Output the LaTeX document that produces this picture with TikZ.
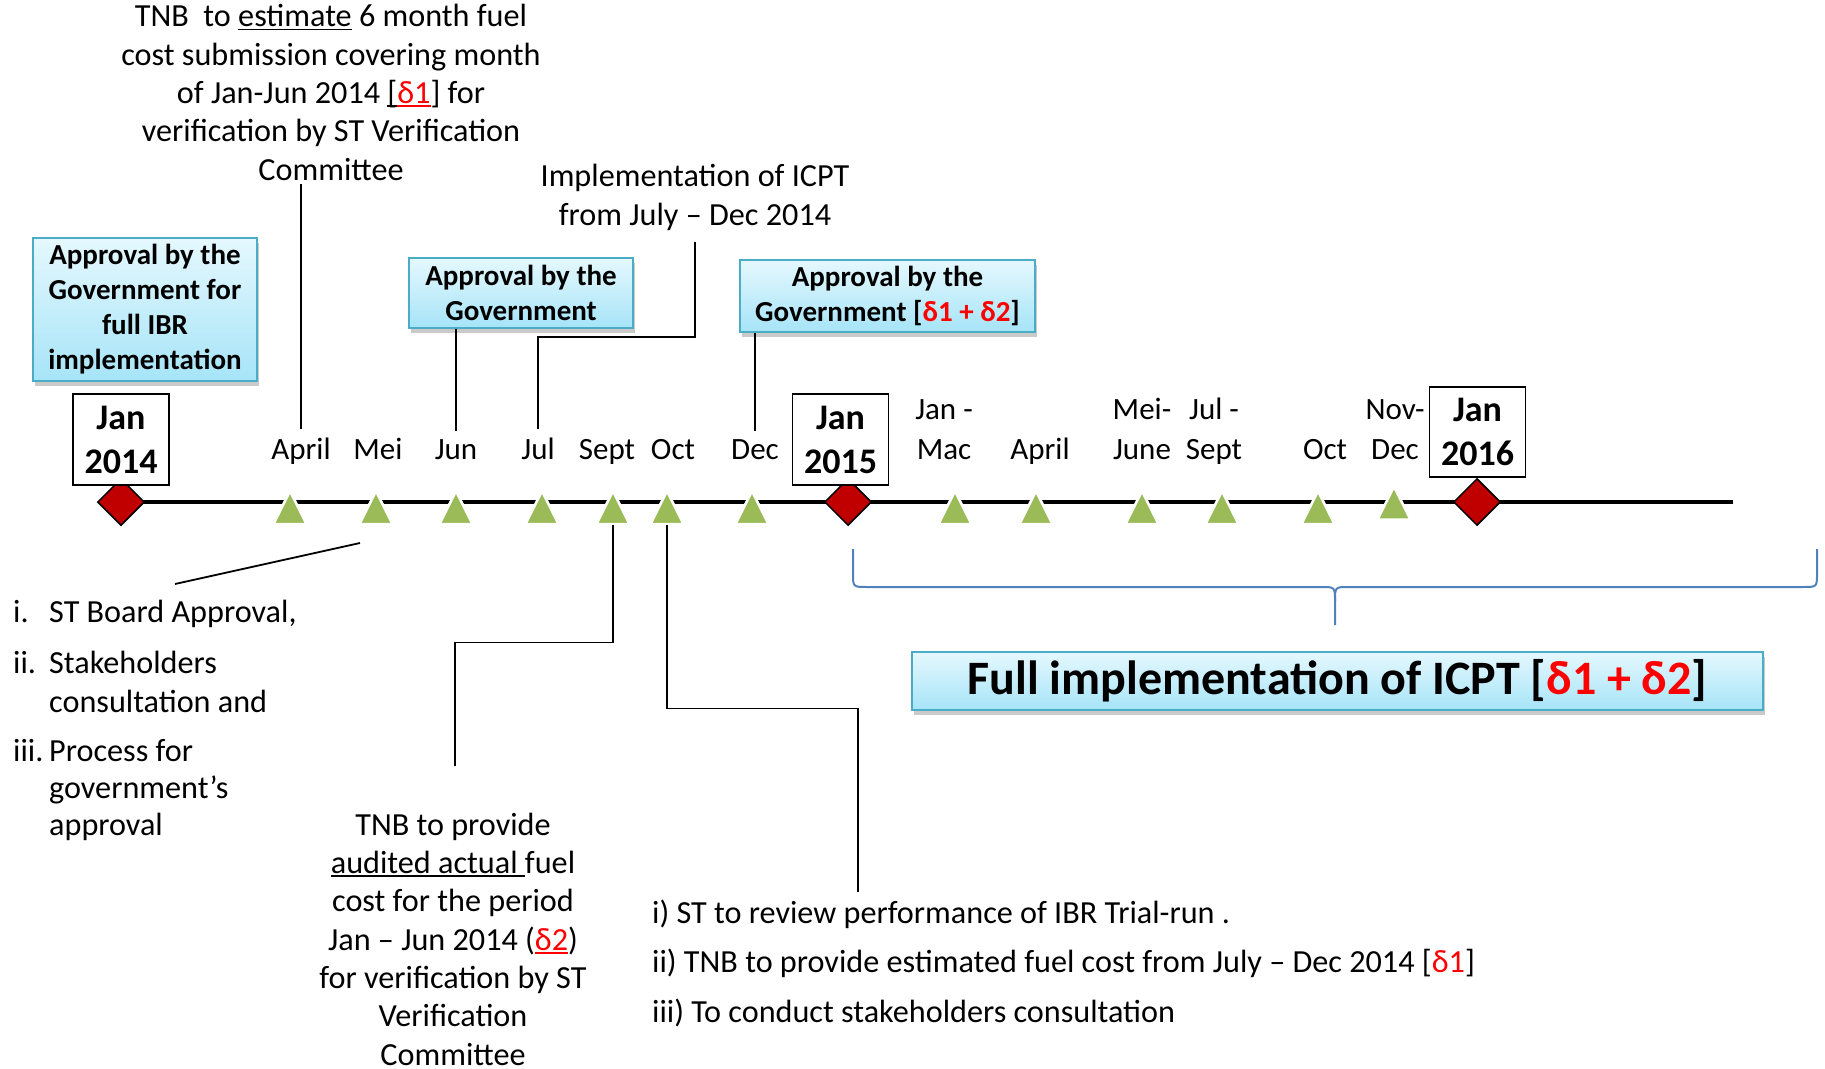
\documentclass[tikz,border=0pt]{standalone}
\usepackage{fontspec}
\setmainfont{Carlito}
\usetikzlibrary{shapes.geometric,shadows}
\definecolor{tgreen}{HTML}{9BBB59}
\definecolor{dred}{HTML}{C00000}
\definecolor{bxborder}{HTML}{4BACC6}
\definecolor{bxtop}{HTML}{E5F8FE}
\definecolor{bxbot}{HTML}{A6E4F8}
\definecolor{bracecol}{HTML}{4F81BD}
\newsavebox\myulbox
\newcommand\myul[1]{\sbox\myulbox{#1}\rlap{\usebox\myulbox}\rule[-3.5pt]{\wd\myulbox}{1.6pt}}
\tikzset{
  tri/.pic={\path[fill=tgreen, draw=white, line width=2.5] (-16.5,16.5) -- (0,-16.5) -- (16.5,16.5) -- cycle;
            \coordinate (-bot) at (0,17);},
}
\begin{document}
\begin{tikzpicture}[x=1pt,y=-1pt,
  body/.style={font=\fontsize{32.2}{38.3}\selectfont, inner sep=0, align=center},
  mlabel/.style={font=\fontsize{31}{40}\selectfont, inner sep=8, align=center, anchor=base},
  datebox/.style={draw, line width=1.5, fill=white, font=\fontsize{36}{44}\selectfont\bfseries, align=center, minimum width=96, minimum height=91, inner sep=0},
  apprbox/.style={draw=bxborder, line width=2, top color=bxtop, bottom color=bxbot,
     drop shadow={shadow xshift=2pt, shadow yshift=-5pt, opacity=0.35, fill=black!60},
     font=\fontsize{29}{35}\selectfont\bfseries, align=center, inner sep=0},
  conn/.style={draw=black, line width=1.8},
  diam/.style={diamond, draw=black, line width=1.5, fill=dred, minimum width=47, minimum height=47, inner sep=0},
  timeline/.style={draw=black, line width=4},
  bracestyle/.style={draw=bracecol, line width=2},
]
\useasboundingbox (0,0) rectangle (1825,1068);

% timeline
\coordinate (tlStart) at (121,502);
\coordinate (tlEnd) at (1733,502);
\draw[timeline] (tlStart) -- (tlEnd);

% triangles
\pic (tApril) at (290,507.5) {tri};
\pic (tMei) at (376,507.5) {tri};
\pic (tJun) at (456,507.5) {tri};
\pic (tJul) at (542,507.5) {tri};
\pic (tSept) at (613,507.5) {tri};
\pic (tOct) at (667,507.5) {tri};
\pic (tDec) at (752,507.5) {tri};
\pic (tJanMac) at (955,507.5) {tri};
\pic (tApril2) at (1036,507.5) {tri};
\pic (tMeiJune) at (1142,507.5) {tri};
\pic (tJulSept) at (1222,507.5) {tri};
\pic (tOct2) at (1318,507.5) {tri};
\pic (tNovDec) at (1394,503) {tri};

% diamonds
\node[diam] (dJ14) at (121,502) {};
\node[diam] (dJ15) at (848,502) {};
\node[diam] (dJ16) at (1477,502) {};

% date boxes
\node[datebox] (bJ14) at (121,439.5) {Jan\\2014};
\node[datebox] (bJ15) at (840.5,439.5) {Jan\\2015};
\node[datebox, minimum height=90] (bJ16) at (1477.5,432) {Jan\\2016};

% month labels (anchor base = baseline of last line)
\node[mlabel] (lApril) at (301,459) {April};
\node[mlabel] (lMei) at (378,459) {Mei};
\node[mlabel] (lJun) at (456,459) {Jun};
\node[mlabel] (lJul) at (538,459) {Jul};
\node[mlabel] (lSept) at (607,459) {Sept};
\node[mlabel] (lOct) at (673,459) {Oct};
\node[mlabel] (lDec) at (755,459) {Dec};
\node[mlabel] (lJanMac) at (944,459) {Jan -\\Mac};
\node[mlabel] (lApril2) at (1040,459) {April};
\node[mlabel] (lMeiJune) at (1142,459) {Mei-\\June};
\node[mlabel] (lJulSept) at (1214,459) {Jul -\\Sept};
\node[mlabel] (lOct2) at (1325,459) {Oct};
\node[mlabel] (lNovDec) at (1395,459) {Nov-\\Dec};

% approval boxes
\node[apprbox, minimum width=224, minimum height=143] (appr1) at (145,309.5) {Approval by the\\Government for\\full IBR\\implementation};
\node[apprbox, minimum width=224, minimum height=70] (appr2) at (521,293) {Approval by the\\Government};
\node[apprbox, minimum width=295, minimum height=72] (appr3) at (887.5,296) {Approval by the\\Government [\textcolor{red}{δ1 + δ2}]};

% top texts
\node[body, anchor=base, inner sep=4] (tnbEst) at (331,180) {TNB~ to \myul{estimate} 6 month fuel\\cost submission covering month\\of Jan-Jun 2014 \myul{[}\textcolor{red}{\myul{δ1}}] for\\verification by ST Verification\\Committee};
\node[body, anchor=base, inner sep=12] (impl) at (695,225) {Implementation of ICPT\\from July – Dec 2014};

% left list
\node[body, anchor=base west] (li1) at (13,622) {i.};
\node[body, anchor=base west] (lt1) at (49,622) {ST Board Approval,};
\node[body, anchor=base west] (li2) at (13,673) {ii.};
\node[body, anchor=base west, align=left] (lt2) at (49,712) {Stakeholders\\consultation and};
\node[body, anchor=base west] (li3) at (13,761) {iii.};
\node[body, anchor=base west, align=left, font=\fontsize{32.2}{37}\selectfont] (lt3) at (49,835) {Process for\\government’s\\approval};

% bottom middle text
\node[body, anchor=base] (tnbAud) at (453,1065) {TNB to provide\\\myul{audited actual\ }fuel\\cost for the period\\Jan – Jun 2014 (\textcolor{red}{\myul{δ2}})\\for verification by ST\\Verification\\Committee};

% bottom right text
\node[body, anchor=base west, align=left, font=\fontsize{32.2}{49.5}\selectfont] (review) at (652,1022) {i) ST to review performance of IBR Trial-run .\\ii) TNB to provide estimated fuel cost from July – Dec 2014 [\textcolor{red}{δ1}]\\iii) To conduct stakeholders consultation};

% full implementation box
\node[apprbox, font=\fontsize{48}{56}\selectfont\bfseries, minimum width=851, minimum height=58] (full) at (1337.5,681) {Full implementation of ICPT [\textcolor{red}{δ1 + δ2}]};

% connectors
\draw[conn] (tnbEst.south -| lApril.north) -- (lApril.north);
\draw[conn] (appr2.south -| lJun.north) -- (lJun.north);
\draw[conn] (lJul.north) -- ++(0,-92) -| (impl.south);
\draw[conn] (appr3.south -| lDec.north) -- (lDec.north);
\coordinate (meiA) at (360,543);
\coordinate (meiB) at (175,584);
\draw[conn] (meiA) -- (meiB);
\coordinate (audTop) at (455,766);
\draw[conn] (tSept-bot) -- ++(0,118) -| (audTop);
\coordinate (revTop) at (858,892);
\draw[conn] (tOct-bot) -- ++(0,184) -| (revTop);

% brace
\coordinate (braceL) at (853,549);
\coordinate (braceR) at (1817,549);
\coordinate (braceTip) at (1335,625);
\draw[bracestyle] (braceL) -- (853,573) .. controls (853,587) .. (867,587) -- (1321,587) .. controls (1335,587) .. (1335,601) -- (braceTip);
\draw[bracestyle] (1335,601) .. controls (1335,587) .. (1349,587) -- (1803,587) .. controls (1817,587) .. (1817,573) -- (braceR);
\end{tikzpicture}
\end{document}
